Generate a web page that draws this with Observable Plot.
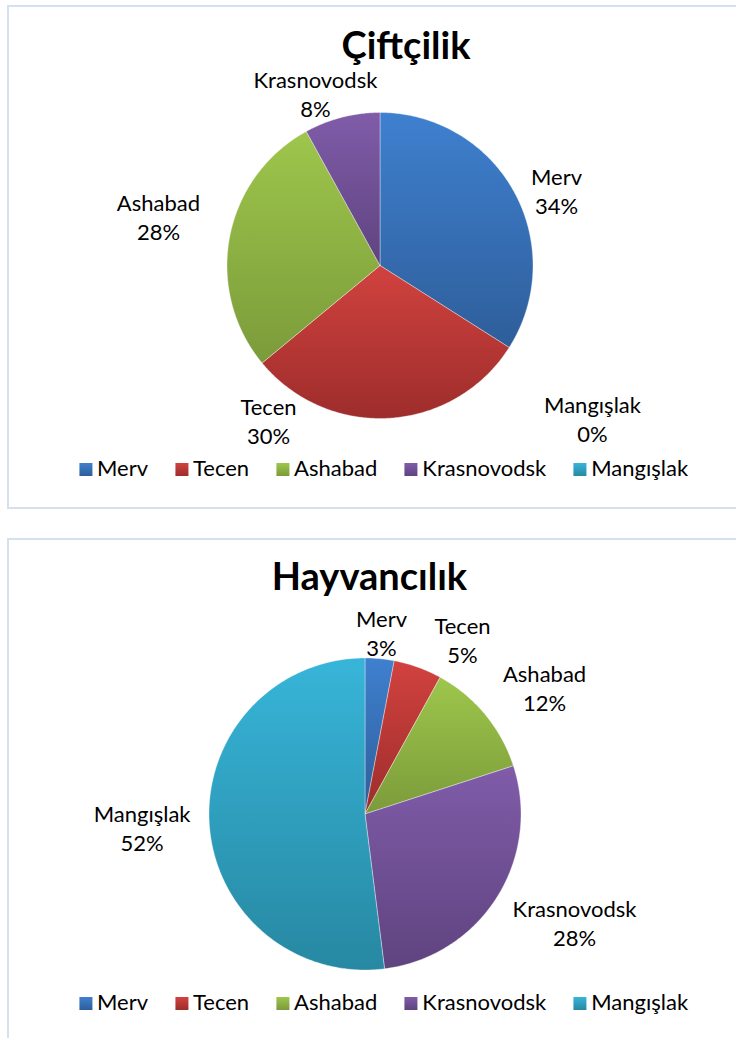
<!DOCTYPE html>
<html><head><meta charset="utf-8">
<script src="https://cdn.jsdelivr.net/npm/d3@7"></script>
<script src="https://cdn.jsdelivr.net/npm/@observablehq/plot@0.6"></script>
<style>
body{margin:0;background:#fff;width:736px;height:1038px;overflow:hidden;position:relative;font-family:Lato,sans-serif;color:#000;}
.box{position:absolute;left:7px;width:790px;border:2px solid #D6E1F0;box-sizing:border-box;}
.title{position:absolute;font-weight:bold;font-size:38px;line-height:1;white-space:nowrap;transform:translateX(-50%);}
.chart{position:absolute;left:0;}
.chart svg{overflow:visible;}
.legend{position:absolute;font-size:22px;line-height:1;white-space:nowrap;transform:translateX(-50%);}
.legend .item{display:inline-block;margin-right:27px;}
.legend .item:last-child{margin-right:0;}
.legend .sw{display:inline-block;width:13px;height:13px;margin-right:5px;}
</style>
</head><body>
<script>
// ---- data ----
const categories = ["Merv", "Tecen", "Ashabad", "Krasnovodsk", "Mangışlak"];
const farmingValues = [34, 30, 28, 8, 0];      // Çiftçilik
const livestockValues = [3, 5, 12, 28, 52];    // Hayvancılık
const chartTitles = ["Çiftçilik", "Hayvancılık"];

// ---- styles ----
const gradTop = ["#3F80CF", "#D1423F", "#9EC64C", "#805CA9", "#37B5D9"];
const gradBottom = ["#2E5E9A", "#9D2D2B", "#7B9B3A", "#5F437F", "#2788A2"];

// ---- layout (label anchor: first-line baseline, in pie radii from centre, y up) ----
const layouts = [
  {boxTop: 5, boxHeight: 504, titleX: 406, titleTop: 24.5, svgTop: 60, height: 400, cx: 379.5, cy: 265, r: 153, legendTop: 456.5, legendX: 383.5,
   labelPos: [[1.154, 0.529], [-0.729, -0.980], [-1.448, 0.353], [-0.422, 1.157], [1.389, -0.961]]},
  {boxTop: 538, boxHeight: 600, titleX: 369.5, titleTop: 555.5, svgTop: 600, height: 390, cx: 364.5, cy: 813.5, r: 156, legendTop: 990.5, legendX: 383.5,
   labelPos: [[0.106, 1.196], [0.625, 1.151], [1.151, 0.849], [1.343, -0.663], [-1.429, -0.054]]}
];
const FS = 22, LINE = 29;

function arcPoints(a0, a1, withCenter) {
  const n = Math.max(2, Math.ceil((a1 - a0) / 0.01));
  const pts = withCenter ? [{x: 0, y: 0}] : [];
  for (let k = 0; k <= n; k++) {
    const a = a0 + (a1 - a0) * k / n;
    pts.push({x: Math.sin(a), y: Math.cos(a)});
  }
  if (withCenter) pts.push({x: 0, y: 0});
  return pts;
}

function drawChart(values, title, L, idx) {
  const box = document.createElement("div");
  box.className = "box";
  box.style.top = L.boxTop + "px";
  box.style.height = L.boxHeight + "px";
  document.body.appendChild(box);

  const t = document.createElement("div");
  t.className = "title";
  t.textContent = title;
  t.style.left = L.titleX + "px";
  t.style.top = L.titleTop + "px";
  document.body.appendChild(t);

  const total = d3.sum(values);
  const arcs = d3.pie().sort(null).value(d => d)(values);
  const cyL = L.cy - L.svgTop;
  const r = L.r;

  const marks = [];
  marks.push(Plot.line(arcPoints(0, 2 * Math.PI, false).map(p => ({x: p.x + 0.012, y: p.y - 0.02})),
    {x: "x", y: "y", fill: "#000", fillOpacity: 0.28, stroke: "none", ariaLabel: "shadow"}));
  arcs.forEach((a, i) => {
    if (a.value <= 0) return;
    marks.push(Plot.line(arcPoints(a.startAngle, a.endAngle, true),
      {x: "x", y: "y", fill: `url(#g${idx}-${i})`, stroke: "#fff", strokeOpacity: 0.45, strokeWidth: 0.8, strokeLinejoin: "round"}));
  });
  const labels = categories.map((c, i) => ({
    name: c,
    pct: Math.round(values[i] / total * 100) + "%",
    x: L.labelPos[i][0],
    y1: L.labelPos[i][1] + 0.32 * FS / r,
    y2: L.labelPos[i][1] + (0.32 * FS - LINE) / r
  }));
  marks.push(Plot.text(labels, {x: "x", y: "y1", text: "name", fontSize: FS, fill: "#000", textAnchor: "middle"}));
  marks.push(Plot.text(labels, {x: "x", y: "y2", text: "pct", fontSize: FS, fill: "#000", textAnchor: "middle"}));

  const svg = Plot.plot({
    width: 736, height: L.height, margin: 0,
    x: {domain: [(0 - L.cx) / r, (736 - L.cx) / r], axis: null},
    y: {domain: [(cyL - L.height) / r, cyL / r], axis: null},
    style: {fontFamily: "Lato, sans-serif", background: "transparent", overflow: "visible"},
    marks
  });
  const s = d3.select(svg);
  const defs = s.insert("defs", ":first-child");
  defs.append("filter").attr("id", `blur${idx}`).attr("x", "-20%").attr("y", "-20%").attr("width", "140%").attr("height", "140%")
    .append("feGaussianBlur").attr("stdDeviation", 3.5);
  categories.forEach((c, i) => {
    const g = defs.append("linearGradient").attr("id", `g${idx}-${i}`).attr("x1", 0).attr("y1", 0).attr("x2", 0).attr("y2", 1);
    g.append("stop").attr("offset", "0%").attr("stop-color", gradTop[i]);
    g.append("stop").attr("offset", "100%").attr("stop-color", gradBottom[i]);
  });
  s.select('g[aria-label="shadow"]').attr("filter", `url(#blur${idx})`);

  const wrap = document.createElement("div");
  wrap.className = "chart";
  wrap.style.top = L.svgTop + "px";
  wrap.appendChild(svg);
  document.body.appendChild(wrap);

  const lg = document.createElement("div");
  lg.className = "legend";
  lg.style.left = L.legendX + "px";
  lg.style.top = L.legendTop + "px";
  categories.forEach((c, i) => {
    const it = document.createElement("span");
    it.className = "item";
    const sw = document.createElement("span");
    sw.className = "sw";
    sw.style.background = `linear-gradient(${gradTop[i]}, ${gradBottom[i]})`;
    it.appendChild(sw);
    it.appendChild(document.createTextNode(c));
    lg.appendChild(it);
  });
  document.body.appendChild(lg);
}

drawChart(farmingValues, chartTitles[0], layouts[0], 0);
drawChart(livestockValues, chartTitles[1], layouts[1], 1);
</script>
</body></html>
